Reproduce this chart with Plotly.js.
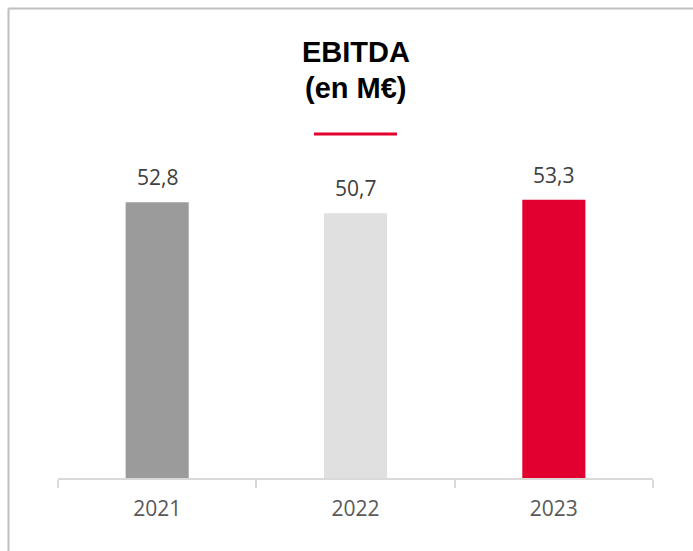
<!DOCTYPE html>
<html>
<head>
<meta charset="utf-8">
<script src="https://cdn.plot.ly/plotly-3.0.1.min.js"></script>
<style>
  html, body { margin: 0; padding: 0; background: #ffffff; }
  #chart { width: 693px; height: 551px; }
</style>
</head>
<body>
<div id="chart"></div>
<script>
const years = ["2021", "2022", "2023"];
const ebitda = [52.8, 50.7, 53.3];
const valueLabels = ["52,8", "50,7", "53,3"];
const barColors = ["#9b9b9b", "#e0e0e0", "#e1002f"];
const titleLine1 = "EBITDA";
const titleLine2 = "(en M€)";

const trace = {
  type: "bar",
  x: years,
  y: ebitda,
  marker: { color: barColors },
  hoverinfo: "skip"
};

const valueAnnotations = years.map((yr, i) => ({
  x: i, y: ebitda[i], xref: "x", yref: "y",
  text: valueLabels[i], showarrow: false,
  yanchor: "bottom", yshift: 9,
  font: { family: "Open Sans, sans-serif", size: 21, color: "#404040" }
}));

const titleFont = { family: "Liberation Sans, Arial, sans-serif", size: 29, color: "#000000" };

const layout = {
  width: 693, height: 551,
  margin: { l: 58, r: 40, t: 100, b: 73, pad: 0 },
  paper_bgcolor: "#ffffff",
  plot_bgcolor: "#ffffff",
  showlegend: false,
  bargap: 0.682,
  xaxis: {
    type: "category",
    range: [-0.5, 2.5], autorange: false,
    showline: true, linecolor: "#d9d9d9", linewidth: 2,
    ticks: "outside", tickson: "boundaries", ticklen: 8, tickwidth: 2, tickcolor: "#d9d9d9",
    ticklabelstandoff: 11,
    showgrid: false, zeroline: false, tickangle: 0,
    tickfont: { family: "Open Sans, sans-serif", size: 21, color: "#595959" }
  },
  yaxis: {
    range: [0, 72.4], autorange: false, visible: false, showgrid: false, zeroline: false, fixedrange: true
  },
  annotations: [
    { xref: "paper", yref: "paper", x: 0.5008, y: 1.127, text: "<b>" + titleLine1 + "</b>",
      showarrow: false, xanchor: "center", yanchor: "middle", font: titleFont },
    { xref: "paper", yref: "paper", x: 0.5008, y: 1.032, text: "<b>" + titleLine2 + "</b>",
      showarrow: false, xanchor: "center", yanchor: "middle", font: titleFont }
  ].concat(valueAnnotations),
  shapes: [
    { type: "line", xref: "paper", yref: "paper", x0: 0.4303, x1: 0.5697, y0: 0.910, y1: 0.910,
      line: { color: "#e1002f", width: 3 } },
    { type: "line", xref: "paper", yref: "paper", x0: -0.0832, x1: 1.07, y0: 1.242, y1: 1.242,
      line: { color: "#bfbfbf", width: 2 } },
    { type: "line", xref: "paper", yref: "paper", x0: -0.0832, x1: -0.0832, y0: 1.242, y1: -0.2,
      line: { color: "#bfbfbf", width: 2 } }
  ]
};

Plotly.newPlot("chart", [trace], layout, { displayModeBar: false, staticPlot: true });
</script>
</body>
</html>
